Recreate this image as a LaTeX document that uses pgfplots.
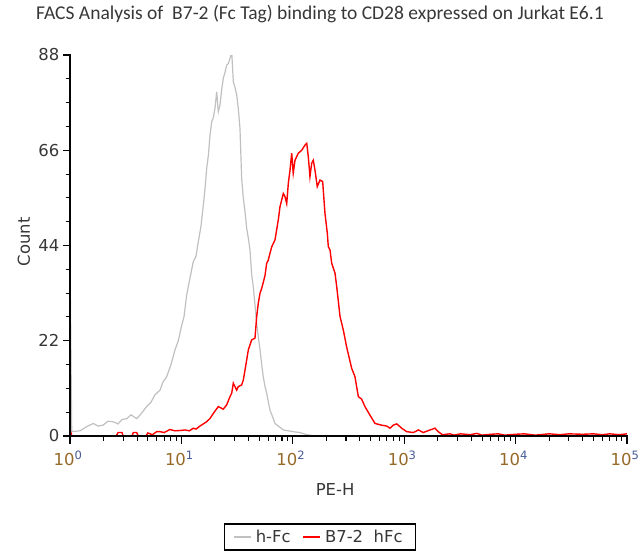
\documentclass[border=0pt]{standalone}
\usepackage{fontspec}
\setmainfont{DejaVu Sans}
\newfontfamily\titlefont{Carlito}
\usepackage{pgfplots}
\pgfplotsset{compat=1.18}

\definecolor{hfcgray}{RGB}{192,192,192}
\definecolor{tickbrown}{RGB}{150,105,40}
\definecolor{tickblue}{RGB}{70,90,150}
\definecolor{labgray}{RGB}{55,55,55}
\definecolor{axblack}{RGB}{5,5,5}

\newcommand{\decade}[1]{\textcolor{tickbrown}{10}\textsuperscript{\textcolor{tickblue}{#1}}}

\begin{document}
\begin{tikzpicture}

\begin{axis}[
    at={(0bp,0bp)},
    anchor=south west,
    scale only axis,
    width=557bp,
    height=381bp,
    xmode=log,
    log basis x=10,
    xmin=1, xmax=100000,
    ymin=0, ymax=88,
    enlarge x limits=false,
    enlarge y limits=false,
    axis lines=left,
    axis line style={draw=none},
    tick style={draw=none},
    ytick={0,22,44,66,88},
    xtick={1,10,100,1000,10000,100000},
    xticklabels={\decade{0},\decade{1},\decade{2},\decade{3},\decade{4},\decade{5}},
    /pgf/number format/assume math mode=true,
    tick label style={font=\fontsize{16.5}{18}\selectfont, text=labgray},
    xticklabel style={yshift=-9bp, xshift=-2bp},
    yticklabel style={xshift=-5bp},
    xlabel={PE-H},
    ylabel={Count},
    label style={font=\fontsize{16.5}{18}\selectfont, text=labgray},
    xlabel style={at={(axis description cs:0.476,-0.14)}, anchor=center},
    ylabel style={at={(axis description cs:-0.083,0.51)}, anchor=center},
    legend columns=2,
    legend image code/.code={\draw[#1] (0bp,0bp) -- (17bp,0bp);},
    legend style={at={(axis description cs:0.449,-0.265)}, anchor=center,
        draw=black, line width=1.2bp, font=\fontsize{16.5}{18}\selectfont,
        text=labgray, inner xsep=9bp, inner ysep=4bp,
        nodes={inner xsep=4bp},
        /tikz/every odd column/.append style={column sep=0bp},
        /tikz/every even column/.append style={column sep=8bp}},
    legend cell align=left,
]

% h-Fc (control)
\addplot[hfcgray, line width=1.2bp] coordinates {
    (1,41) (1.036,1) (1.23,1.2) (1.42,2.2) (1.62,2.9) (1.78,2.3) (1.98,2.5)
    (2.19,3.4) (2.43,3.3) (2.70,2.8) (2.93,3.8) (3.23,4.0) (3.53,4.9) (3.97,4.0)
    (4.34,5.1) (4.88,6.8) (5.33,7.8) (5.79,9.5) (6.43,10.6) (6.84,12.5) (7.38,13.7)
    (8.07,16.5) (8.76,19.9) (9.38,22.0) (10.07,25.6) (10.55,27.5) (11.16,32.6)
    (11.95,36.5) (12.79,40.3) (13.52,41.5) (14.19,44.9) (15.0,48.5) (15.73,53.3)
    (16.29,57) (16.87,61.8) (17.5,65) (18.06,69.5) (18.71,72.6) (19.33,73.5)
    (20.03,75.7) (20.74,79.5) (21.44,74.9) (22.19,76.4) (23.0,80) (23.77,82.6)
    (24.62,84) (25.5,85.7) (26.37,86) (27.3,87.2) (28.3,88.7) (29.24,81.8)
    (30.28,80.5) (31.36,78.8) (32.4,75.7) (33.57,71) (34.76,59.5) (35.95,55)
    (37.24,51.8) (38.55,48) (39.9,45.7) (41.28,43) (42.76,37.2) (44.2,34.5)
    (45.77,30.3) (47.4,26) (48.98,23) (50.8,19.9) (52.6,16.5) (54.3,13.7)
    (56.25,11.5) (58.3,9.9) (60.2,8) (62.4,6) (66.4,4.2) (69.2,2.9) (76.7,2)
    (82.2,1.4) (100.9,1) (116.1,0.8) (133.4,0.3) (160,0) (100000,0)
};
\addlegendentry{h-Fc}

% B7-2 hFc
\addplot[red, line width=1.4bp] coordinates {
    (1,1.5) (1.04,0) (2.6,0) (2.7,0.8) (2.93,0.8) (3.0,0) (3.6,0) (3.7,0.8)
    (3.97,0.8) (4.1,0) (4.8,0) (5.0,0.7) (5.5,0.3) (6.0,1) (6.43,1) (7.0,0.8)
    (7.9,1.5) (8.76,1.2) (10.07,1.3) (10.8,1.4) (11.8,1.2) (12.79,1.8)
    (13.52,1.6) (14.69,2.3) (16.87,3.3) (18.0,4.0) (19.33,5.2) (21.44,6.8)
    (23.77,6.2) (25.5,7.2) (27.3,9.1) (28.3,9.9) (29.24,12.2) (31.36,10.6)
    (32.4,11.4) (34.76,11.8) (35.95,12.9) (37.24,15.2) (39.9,19.9) (42.76,22.2)
    (45.77,22.6) (47.4,27.6) (48.98,30.6) (50.8,33) (52.6,34.1) (56.25,37)
    (58.3,39.9) (60.2,40.6) (62.4,42.2) (64.7,43.7) (69.2,45.3) (74.1,49.9)
    (76.7,52.9) (82.2,56) (85.1,55.3) (88.2,53.7) (91.2,58.4) (94.4,61.4)
    (97.8,65.3) (100.9,60.7) (104.7,63.7) (112,65.3) (120.2,66) (128.8,67.2)
    (133.4,67.6) (137.8,64.5) (142.6,59.9) (147.8,63) (152.8,63.7) (158.2,61.4)
    (165.9,57.6) (175.4,59.1) (185.4,58.8) (194.5,51.4) (204.2,46.8) (208.4,43.7)
    (215.8,43) (223.4,39.9) (239.3,37.6) (247.8,34.5) (265.5,27.6) (284,24.5)
    (304.7,20.5) (338,15.6) (361.6,13.7) (387.4,9.1) (415,8.5) (444.4,6.8)
    (493.3,4.8) (547,2.9) (628,2.5) (696.6,2.3) (746,1.8) (798,2.5) (857,2.8)
    (950,1.8) (1052,1) (1208,0.8) (1340,1.4) (1484,0.8) (1706,1.4) (1890,1.8)
    (2024,1) (2200,0.3) (2578,0.5) (2800,0.2) (3200,0.5) (3900,0.3) (4500,0.6)
    (5000,0.2) (6000,0.4) (7000,0.5) (8000,0.2) (10000,0.4) (12000,0.5)
    (15000,0.2) (20000,0.5) (25000,0.3) (30000,0.5) (40000,0.4) (50000,0.5)
    (60000,0.3) (70000,0.5) (85000,0.3) (100000,0.5)
};
\addlegendentry{B7-2\ \ hFc}

\end{axis}

% axis frame as filled bars: box is 557bp x 381bp at the origin (4.32955bp per count)
\foreach \v in {0,22,44,66,88}
  \fill[axblack] (-6.5bp,{\v*4.32955bp-0.6bp}) rectangle (0bp,{\v*4.32955bp+0.6bp});
\foreach \v in {5.5,11,16.5,27.5,33,38.5,49.5,55,60.5,71.5,77,82.5}
  \fill[axblack] (-4bp,{\v*4.32955bp-0.55bp}) rectangle (0bp,{\v*4.32955bp+0.55bp});
\foreach \d in {0,...,5}
  \fill[axblack] ({\d*111.4bp-0.6bp},0bp) rectangle ({\d*111.4bp+0.6bp},-7.5bp);
\foreach \d in {0,...,4}
  \foreach \m in {2,...,9}
    \fill[axblack] ({(\d+log10(\m))*111.4bp-0.55bp},0bp) rectangle ({(\d+log10(\m))*111.4bp+0.55bp},-4.5bp);
\fill[axblack] (-1bp,-1bp) rectangle (1bp,381.5bp);
\fill[axblack] (-1bp,-1bp) rectangle (557.6bp,1bp);

\node[font=\titlefont\fontsize{19.6}{22}\selectfont, text=labgray] at (250bp,422bp)
  {FACS Analysis of\ \ B7-2 (Fc Tag) binding to CD28 expressed on Jurkat E6.1};

\pgfresetboundingbox
\useasboundingbox (-70bp,-122bp) rectangle (570bp,436bp);
\end{tikzpicture}
\end{document}
